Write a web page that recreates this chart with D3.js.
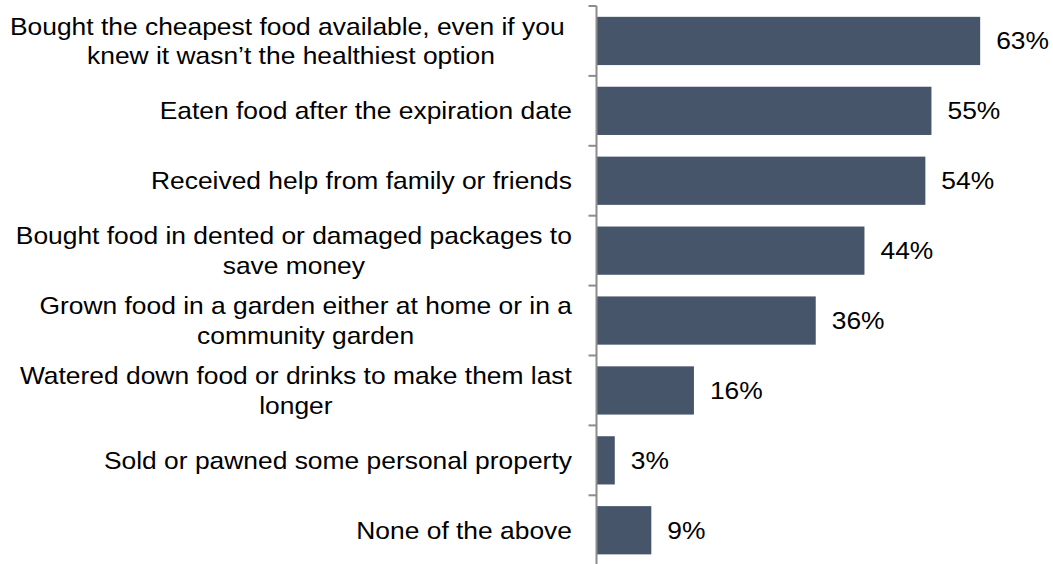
<!DOCTYPE html>
<html>
<head>
<meta charset="utf-8">
<script src="https://cdn.jsdelivr.net/npm/d3@7"></script>
<style>
  html, body { margin: 0; padding: 0; background: #fff; }
  svg { display: block; }
  text { font-family: "Liberation Sans", Arial, sans-serif; fill: #000; white-space: pre; }
</style>
</head>
<body>
<svg id="chart" width="1053" height="564"></svg>
<script>
// Survey answers (each line of a label is an entry)
const categories = [
  ["Bought the cheapest food available, even if you ", "knew it wasn\u2019t the healthiest option"],
  ["Eaten food after the expiration date"],
  ["Received help from family or friends"],
  ["Bought food in dented or damaged packages to", "save money"],
  ["Grown food in a garden either at home or in a", "community garden"],
  ["Watered down food or drinks to make them last", "longer"],
  ["Sold or pawned some personal property"],
  ["None of the above"]
];
const values = [63, 55, 54, 44, 36, 16, 3, 9];
const valueLabels = ["63%", "55%", "54%", "44%", "36%", "16%", "3%", "9%"];

const svg = d3.select("#chart");
const margin = { top: 6, left: 596.5 };
const bandH = 69.9;
const innerH = bandH * categories.length;
const fontSize = 24;
const stretch = 1.1;     // slightly wide lettering
const labelRight = 572;  // right edge of the category label block
const lineH = 29.5;

const keys = categories.map((d, i) => i);

const y = d3.scaleBand()
  .domain(keys)
  .range([margin.top, margin.top + innerH])
  .paddingInner(0.31)
  .paddingOuter(0.155);

const x = d3.scaleLinear()
  .domain([0, 100])
  .range([margin.left, margin.left + 609]);

// Bars
svg.append("g")
  .selectAll("rect")
  .data(values)
  .join("rect")
  .attr("x", x(0))
  .attr("y", (d, i) => y(i))
  .attr("width", d => x(d) - x(0))
  .attr("height", y.bandwidth())
  .attr("fill", "#465569");

// Value labels
svg.append("g")
  .selectAll("text")
  .data(values)
  .join("text")
  .attr("transform", (d, i) => `translate(${x(d) + 16},${y(i) + y.bandwidth() / 2}) scale(${stretch},1)`)
  .attr("dy", "0.35em")
  .attr("font-size", fontSize)
  .text((d, i) => valueLabels[i]);

// Category axis: vertical line with ticks at band boundaries
const axis = svg.append("g");
axis.append("line")
  .attr("x1", margin.left).attr("x2", margin.left)
  .attr("y1", margin.top).attr("y2", margin.top + innerH)
  .attr("stroke", "#8c8c8c").attr("stroke-width", 2);
const boundaries = d3.range(categories.length + 1).map(i => margin.top + i * bandH);
axis.selectAll("line.tick")
  .data(boundaries)
  .join("line")
  .attr("class", "tick")
  .attr("x1", margin.left - 8).attr("x2", margin.left)
  .attr("y1", d => d).attr("y2", d => d)
  .attr("stroke", "#8c8c8c").attr("stroke-width", 2);

// Category labels: lines centred on each other, block right-aligned to the axis
const labels = svg.append("g")
  .selectAll("text")
  .data(categories)
  .join("text")
  .attr("text-anchor", "middle")
  .attr("font-size", fontSize);
labels.selectAll("tspan")
  .data(d => d.map((t, j) => ({ t, j, n: d.length })))
  .join("tspan")
  .attr("x", 0)
  .attr("y", d => (d.j - (d.n - 1) / 2) * lineH)
  .attr("dy", "0.35em")
  .text(d => d.t);
labels.each(function (d, i) {
  let w = 0;
  d3.select(this).selectAll("tspan").each(function () {
    w = Math.max(w, this.getComputedTextLength());
  });
  const cx = labelRight - (w * stretch) / 2;
  d3.select(this).attr("transform",
    `translate(${cx},${y(i) + y.bandwidth() / 2}) scale(${stretch},1)`);
});
</script>
</body>
</html>
